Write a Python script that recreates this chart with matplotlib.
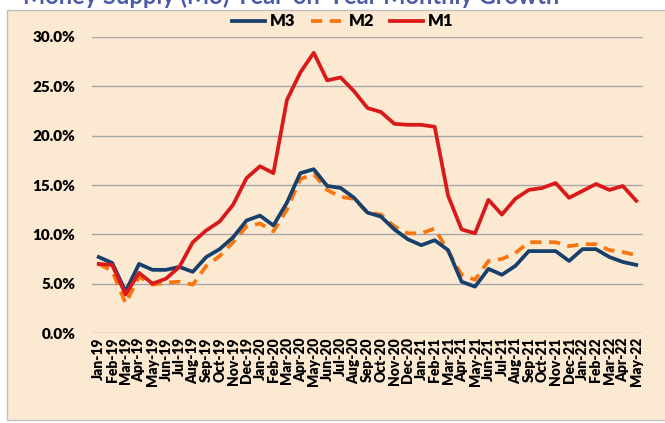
import matplotlib.pyplot as plt
import numpy as np
from matplotlib.patches import Rectangle
from matplotlib.ticker import FuncFormatter

plt.rcParams["font.family"] = ["Lato", "DejaVu Sans"]

# 月份标签
months = [
    "Jan-19", "Feb-19", "Mar-19", "Apr-19", "May-19", "Jun-19", "Jul-19", "Aug-19",
    "Sep-19", "Oct-19", "Nov-19", "Dec-19", "Jan-20", "Feb-20", "Mar-20", "Apr-20",
    "May-20", "Jun-20", "Jul-20", "Aug-20", "Sep-20", "Oct-20", "Nov-20", "Dec-20",
    "Jan-21", "Feb-21", "Mar-21", "Apr-21", "May-21", "Jun-21", "Jul-21", "Aug-21",
    "Sep-21", "Oct-21", "Nov-21", "Dec-21", "Jan-22", "Feb-22", "Mar-22", "Apr-22",
    "May-22",
]

# 同比增长率 (%)
m3 = [7.7, 7.1, 4.2, 7.0, 6.4, 6.4, 6.7, 6.2, 7.7, 8.5, 9.7, 11.4, 11.9, 10.9,
      13.2, 16.2, 16.6, 14.9, 14.7, 13.7, 12.2, 11.8, 10.5, 9.5, 8.9, 9.4, 8.4,
      5.2, 4.7, 6.5, 5.9, 6.8, 8.3, 8.3, 8.3, 7.3, 8.5, 8.5, 7.7, 7.2, 6.9]
m2 = [7.0, 6.3, 3.0, 5.7, 4.9, 5.1, 5.2, 4.9, 6.8, 7.8, 9.2, 10.8, 11.1, 10.3,
      12.5, 15.6, 16.1, 14.5, 13.8, 13.6, 12.2, 12.0, 10.8, 10.1, 10.1, 10.6, 8.3,
      5.9, 5.4, 7.3, 7.5, 8.1, 9.2, 9.2, 9.2, 8.8, 9.0, 9.0, 8.4, 8.2, 7.9]
m1 = [7.0, 6.9, 3.9, 6.1, 5.0, 5.5, 6.7, 9.2, 10.4, 11.3, 13.0, 15.7, 16.9, 16.2,
      23.6, 26.4, 28.4, 25.6, 25.9, 24.5, 22.8, 22.4, 21.2, 21.1, 21.1, 20.9, 13.9,
      10.5, 10.1, 13.5, 12.0, 13.6, 14.5, 14.7, 15.2, 13.7, 14.4, 15.1, 14.5, 14.9,
      13.4]

fig = plt.figure(figsize=(6.65, 4.23), dpi=100)

# 背景框（单独一个底层坐标轴）
bg = fig.add_axes([0, 0, 1, 1], zorder=-5)
bg.set_xlim(0, 665)
bg.set_ylim(423, 0)
bg.axis("off")
bg.add_patch(Rectangle((7, 10), 700, 410, facecolor="#FCE9D1", edgecolor="#BFBFBF",
                       linewidth=1.0))

# 被截断的标题
fig.text(0.035, 1.008, "Money Supply (M3) Year-on-Year Monthly Growth",
         ha="left", va="center", fontsize=17, fontweight="bold", color="#4A59A8")

ax = fig.add_axes([92 / 665, 1 - 333 / 423, 551 / 665, 296 / 423])
ax.set_facecolor("none")

x = np.arange(len(months))
ax.plot(x, np.array(m3) / 100, color="#17406D", linewidth=2.7, label="M3", zorder=3)
ax.plot(x, np.array(m2) / 100, color="#F7760F", linewidth=2.7, linestyle=(0, (3, 2.0)),
        label="M2", zorder=2)
ax.plot(x, np.array(m1) / 100, color="#DA1A1A", linewidth=2.7, label="M1", zorder=4)

ax.set_ylim(0, 0.30)
ax.set_yticks(np.arange(0, 0.301, 0.05))
ax.yaxis.set_major_formatter(FuncFormatter(lambda v, p: f"{v * 100:.1f}%"))
ax.set_xlim(-0.5, len(months) - 0.5)
ax.set_xticks(x)
ax.set_xticklabels(months, rotation=90, fontsize=10, fontweight="heavy")
for lab in ax.get_yticklabels():
    lab.set_fontweight("heavy")
    lab.set_fontsize(11)

ax.grid(axis="y", color="#A6A6A6", linewidth=1.0)
ax.set_axisbelow(True)
for s in ax.spines.values():
    s.set_visible(False)
ax.tick_params(length=0, pad=3)
ax.tick_params(axis="y", pad=12)

ax.legend(loc="lower center", bbox_to_anchor=(0.455, 0.975), ncol=3, frameon=False,
          handlelength=2.0, handletextpad=0.3, columnspacing=0.9,
          prop={"weight": "heavy", "size": 12})

plt.savefig("out.png", dpi=100)
